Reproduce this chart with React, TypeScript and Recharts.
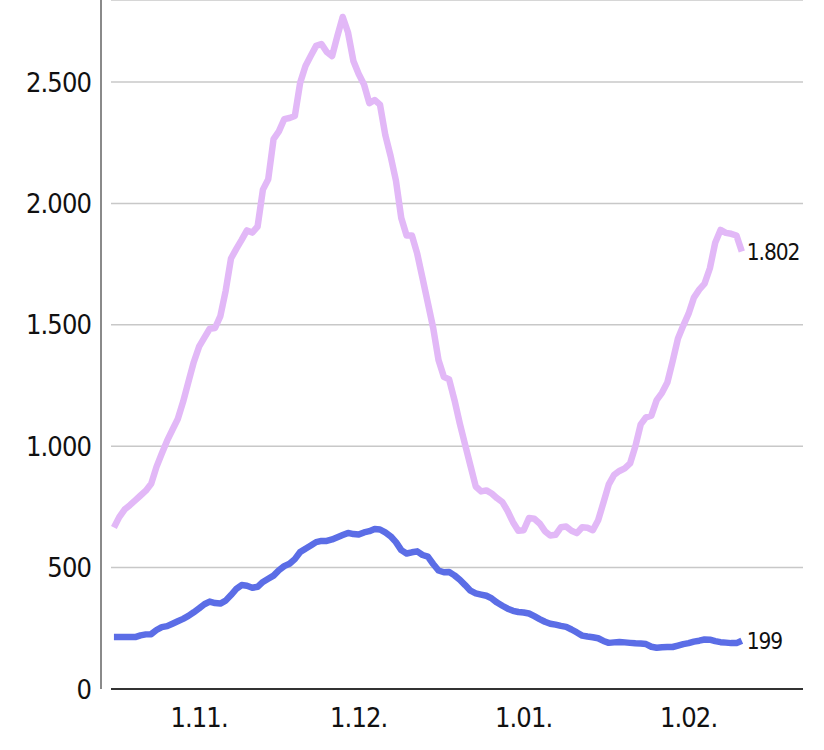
import React from 'react'
import {
  LineChart, Line, XAxis, YAxis, CartesianGrid, ReferenceLine, LabelList,
} from 'recharts'

// ─── data ─────────────────────────────────────────────────────────────
// one value per day, 16.10. → 11.02. (day 0 = 1.11.)

const START_DAY = -16

const pinkSeries = [
  665, 708, 739, 757, 777, 797, 817, 845, 915, 970, 1023, 1068, 1112, 1183, 1265, 1346,
  1410, 1447, 1484, 1487, 1536, 1640, 1773, 1813, 1850, 1889, 1880, 1905, 2057, 2100,
  2265, 2297, 2347, 2352, 2360, 2497, 2566, 2608, 2649, 2657, 2624, 2607, 2690, 2768,
  2704, 2587, 2533, 2490, 2413, 2426, 2407, 2282, 2195, 2094, 1940, 1868, 1868, 1793,
  1692, 1590, 1487, 1355, 1286, 1275, 1190, 1094, 1006, 920, 834, 814, 818, 805, 786,
  770, 733, 687, 652, 654, 704, 701, 682, 650, 632, 635, 666, 669, 652, 642, 666, 664,
  654, 695, 768, 843, 882, 898, 909, 929, 1000, 1090, 1119, 1126, 1190, 1220, 1262,
  1350, 1444, 1497, 1546, 1612, 1645, 1670, 1733, 1838, 1891, 1879, 1875, 1868, 1802,
]

const blueSeries = [
  214, 214, 214, 214, 214, 221, 225, 226, 243, 255, 259, 269, 279, 289, 301, 316,
  332, 349, 360, 354, 352, 364, 387, 412, 428, 425, 417, 421, 441, 454, 467, 489,
  506, 516, 535, 564, 578, 591, 605, 610, 610, 616, 625, 634, 643, 638, 636, 645,
  650, 659, 657, 645, 629, 605, 572, 558, 563, 567, 552, 545, 515, 488, 481, 482,
  468, 450, 428, 405, 394, 389, 384, 373, 356, 343, 331, 322, 317, 315, 311, 300,
  288, 277, 269, 265, 260, 256, 245, 233, 220, 216, 213, 209, 198, 190, 192, 194,
  192, 190, 188, 187, 185, 174, 170, 172, 173, 173, 179, 185, 189, 195, 199, 204,
  203, 197, 193, 191, 189, 189, 199,
]

const xTickDays = [0, 30, 61, 92]
const xTickLabels = ['1.11.', '1.12.', '1.01.', '1.02.']
const yTicks = [0, 500, 1000, 1500, 2000, 2500]

const data = pinkSeries.map((v, i) => ({
  day: START_DAY + i,
  pink: v,
  blue: blueSeries[i],
}))

// ─── helpers ──────────────────────────────────────────────────────────

const FONT = "'DejaVu Sans Condensed', 'DejaVu Sans', sans-serif"

const tickStyle = {
  fill: '#111',
  fontSize: 27,
  fontFamily: FONT,
  fontStretch: 'condensed',
  letterSpacing: -0.9,
} as any

function yFmt(v: number) {
  return v.toLocaleString('de-DE')
}

function xFmt(v: number) {
  const i = xTickDays.indexOf(v)
  return i === -1 ? '' : xTickLabels[i]
}

function EndLabel(props: any) {
  const { x, y, index, value } = props
  if (index !== data.length - 1) return null
  return (
    <text
      x={x + 5}
      y={y}
      dominantBaseline="central"
      fontFamily={FONT}
      fontStretch="condensed"
      fontSize={22.5}
      letterSpacing={-1.1}
      fill="#111"
    >
      {yFmt(value)}
    </text>
  )
}

export default function App() {
  return (
    <div style={{ position: 'absolute', left: 0, top: 0, background: '#fff' }}>
      <LineChart
        width={824}
        height={750}
        data={data}
        margin={{ top: 0, right: 21, bottom: 0, left: 0 }}
      >
        <CartesianGrid vertical={false} stroke="#c8c8c8" strokeWidth={1.5} />
        <XAxis
          dataKey="day"
          type="number"
          domain={[-16.55, 113.5]}
          ticks={xTickDays}
          tickFormatter={xFmt}
          height={61}
          tickSize={0}
          tickMargin={19}
          axisLine={{ stroke: '#333', strokeWidth: 2 }}
          tickLine={false}
          tick={tickStyle}
        />
        <YAxis
          domain={[0, 2838]}
          ticks={yTicks}
          tickFormatter={yFmt}
          width={111}
          tickSize={0}
          tickMargin={20}
          axisLine={false}
          tickLine={false}
          interval={0}
          tick={tickStyle}
        />
        <ReferenceLine x={-18.43} stroke="#8a8a8a" strokeWidth={2} ifOverflow="visible" />
        <Line
          dataKey="pink"
          stroke="#e2b8f7"
          strokeWidth={6.5}
          strokeLinejoin="round"
          dot={false}
          type="linear"
          isAnimationActive={false}
        >
          <LabelList dataKey="pink" content={<EndLabel />} />
        </Line>
        <Line
          dataKey="blue"
          stroke="#5b6de6"
          strokeWidth={6.5}
          strokeLinejoin="round"
          dot={false}
          type="linear"
          isAnimationActive={false}
        >
          <LabelList dataKey="blue" content={<EndLabel />} />
        </Line>
      </LineChart>
    </div>
  )
}
